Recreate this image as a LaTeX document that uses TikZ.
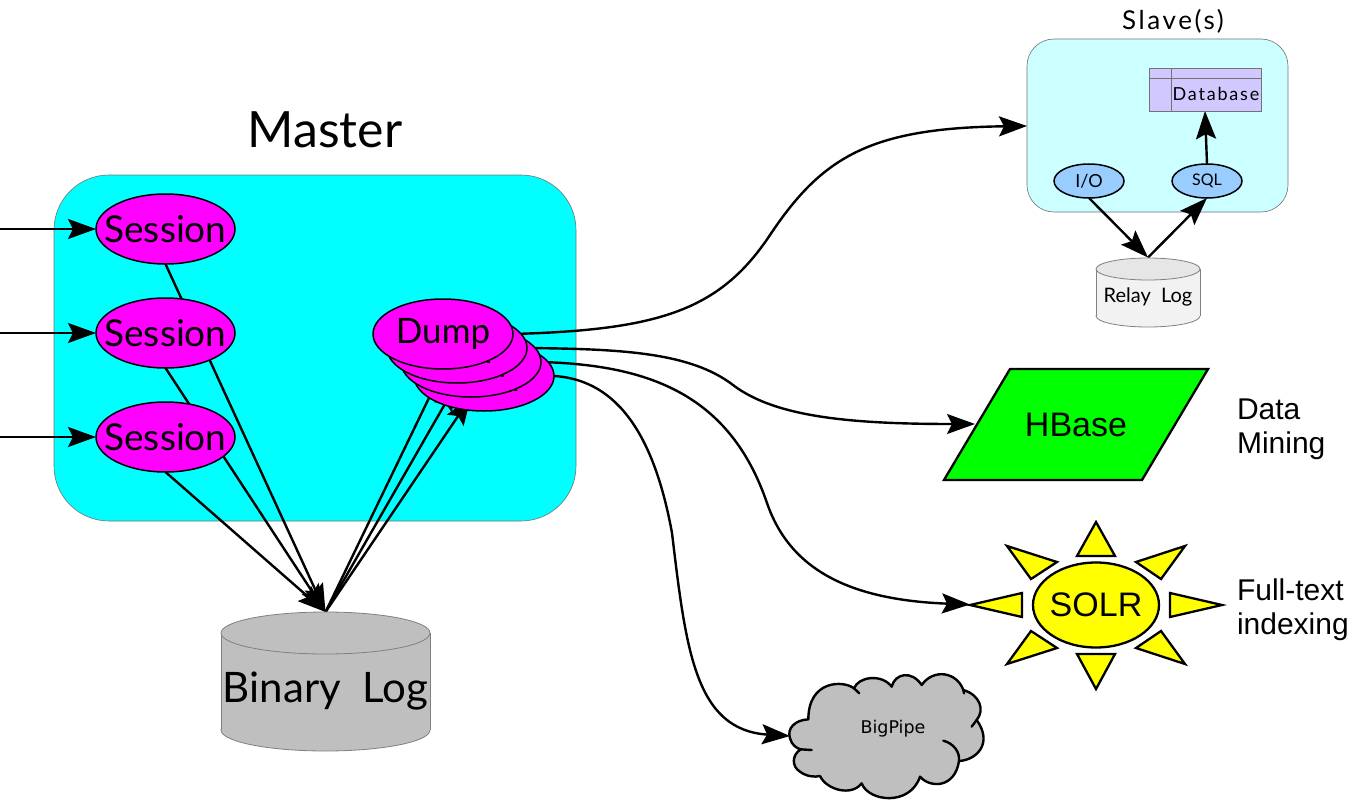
\documentclass[tikz,border=0pt]{standalone}
\usepackage{fontspec}
\setmainfont{Liberation Sans}
\newfontfamily\hand{Lato}
\newfontfamily\handwide[LetterSpace=10]{Lato}
\newfontfamily\dejavu{DejaVu Sans}
\usetikzlibrary{shapes.geometric,arrows.meta}
\pgfdeclarelayer{boxes}
\pgfdeclarelayer{conn}
\pgfdeclarelayer{dfour}
\pgfsetlayers{boxes,conn,dfour,main}
\newcommand{\tb}[1]{\makebox[0pt][c]{#1}}
% drum: centre x, radius x, radius y, top-ellipse centre y, bottom-ellipse centre y, body colour, top colour
\newcommand{\drum}[7]{%
  \fill[#6,draw=black!50,line width=0.8pt] (#1,#5) ellipse [x radius=#2,y radius=#3];
  \fill[#6] (#1-#2,#4) rectangle (#1+#2,#5);
  \draw[black!50,line width=0.8pt] (#1-#2,#4) -- (#1-#2,#5) (#1+#2,#4) -- (#1+#2,#5);
  \draw[black!50,line width=0.8pt,fill=#7] (#1,#4) ellipse [x radius=#2,y radius=#3];
}
\definecolor{threadblue}{HTML}{99CCFF}
\definecolor{slavefill}{HTML}{CCFFFF}
\definecolor{dbfill}{HTML}{D0C8FF}
\definecolor{greyfill}{HTML}{BFBFBF}
\definecolor{mastercyan}{RGB}{0,255,255}
\definecolor{sessmag}{RGB}{255,0,255}
\definecolor{sunyellow}{RGB}{255,255,0}
\definecolor{hbgreen}{RGB}{0,255,0}
\definecolor{relaybody}{HTML}{F2F2F2}
\definecolor{relaytop}{HTML}{E6E6E6}
\tikzset{
  x=1pt,y=-1pt,
  every node/.style={inner sep=0pt,outer sep=0pt},
  link/.style={draw=black,line width=2.4pt,-{Stealth[length=28pt,width=20pt,inset=5pt]}},
  session/.style={ellipse,draw=black,line width=1.5pt,fill=sessmag,minimum width=139pt,minimum height=70pt,font=\hand\fontsize{37}{40}\selectfont},
  dumpnode/.style={session,minimum width=140pt,font=\hand\fontsize{35}{38}\selectfont},
  thread/.style={ellipse,draw=black,line width=1.5pt,fill=threadblue,minimum width=70pt,minimum height=34pt},
  ray/.style={draw=black,line width=2.3pt,fill=sunyellow,line join=miter},
  side/.style={font=\fontsize{30}{34}\selectfont,align=left,anchor=west},
  cloudtail/.style={black,line width=2.4pt,line cap=round},
}
\begin{document}
\begin{tikzpicture}
\useasboundingbox (0,0) rectangle (1366,808);
\begin{pgfonlayer}{boxes}
\node[draw=black!55,line width=0.6pt,fill=mastercyan,rounded corners=55pt,minimum width=522pt,minimum height=346pt] (master) at (315,348) {};
\node[draw=black!55,line width=0.6pt,fill=slavefill,rounded corners=27pt,minimum width=261pt,minimum height=173pt] (slave) at (1157.5,125.5) {};
\end{pgfonlayer}
\node[font=\hand\fontsize{50}{54}\selectfont] (mastertitle) at (325,130) {Master};
\node[font=\handwide\fontsize{26}{30}\selectfont] (slavetitle) at (1173,21) {Slave(s)};
% sessions
\node[session] (s1) at (165.5,229) {\tb{Session}};
\node[session] (s2) at (165.5,333) {\tb{Session}};
\node[session] (s3) at (165.5,437) {\tb{Session}};
\coordinate (in1) at (0,229);
\coordinate (in2) at (0,333);
\coordinate (in3) at (0,437);
% dumps
\node[dumpnode] (d4) at (484,376) {\tb{Dump}};
\node[dumpnode] (d3) at (471,362) {\tb{Dump}};
\node[dumpnode] (d2) at (457,348) {\tb{Dump}};
\node[dumpnode] (d1) at (443,334) {\tb{Dump}};
% binary log
\drum{325.5}{104.5}{21}{633}{730}{greyfill}{greyfill}
\node[minimum width=209pt,minimum height=139pt,font=\hand\fontsize{42}{46}\selectfont] (blog) at (325.5,681.5) {\tb{\raisebox{-20.5pt}[0pt][0pt]{Binary\ \ Log}}};
% slave contents
\node[draw=black!55,line width=1pt,fill=dbfill,minimum width=112pt,minimum height=42pt] (db) at (1205,90) {};
\draw[black!55,line width=1pt] (db.north west |- 0,79) -- (db.north east |- 0,79);
\draw[black!55,line width=1pt] (1171,69) -- (1171,111);
\node[font=\handwide\fontsize{18}{20}\selectfont] (dbtext) at (1216,94) {Database};
\node[thread,font=\hand\fontsize{18}{20}\selectfont] (io) at (1089,181) {\tb{I/O}};
\node[thread,font=\hand\fontsize{16}{20}\selectfont] (sql) at (1207,181) {\tb{SQL}};
\drum{1148}{52}{11}{269}{316}{relaybody}{relaytop}
\node[minimum width=104pt,minimum height=70pt,font=\hand\fontsize{20}{22}\selectfont] (rlog) at (1148,292.5) {\tb{\raisebox{-9.5pt}[0pt][0pt]{Relay\ \ Log}}};
% HBase
\draw[black,line width=2.3pt,fill=hbgreen,line join=miter] (1010,369) -- (1208,369) -- (1142,480) -- (944,480) -- cycle;
\node[font=\fontsize{34}{38}\selectfont] (hbase) at (1076,425) {HBase};
\coordinate (hbasein) at (975,424);
\node[side] (mining) at (1237,429) {Data\\Mining};
% SOLR
\node[ellipse,draw=black,line width=2.3pt,fill=sunyellow,minimum width=126pt,minimum height=85pt,font=\fontsize{34}{38}\selectfont] (solr) at (1096,605) {\tb{SOLR}};
\draw[ray] (1096,522) -- (1077,556) -- (1115,556) -- cycle;
\draw[ray] (1185,546) -- (1136,562) -- (1161,579) -- cycle;
\draw[ray] (1222,605) -- (1170,593) -- (1170,617) -- cycle;
\draw[ray] (1185,664) -- (1136,648) -- (1161,631) -- cycle;
\draw[ray] (1096,689) -- (1077,654) -- (1115,654) -- cycle;
\draw[ray] (1007,664) -- (1057,648) -- (1031,631) -- cycle;
\draw[ray] (970,605) -- (1022,593) -- (1022,617) -- cycle;
\draw[ray] (1007,546) -- (1057,562) -- (1031,579) -- cycle;
\coordinate (solrin) at (970,604.5);
\node[side] (index) at (1237,610) {Full-text\\indexing};
% cloud
\begin{scope}[shift={(780,660)},x=0.33333pt,y=-0.33333pt]
\draw[black,line width=2.4pt,fill=greyfill,line join=round]
 (85,178) .. controls (45,180) and (20,205) .. (30,235)
 .. controls (35,255) and (50,265) .. (62,268)
 .. controls (35,285) and (35,320) .. (60,335)
 .. controls (80,350) and (105,352) .. (120,348)
 .. controls (140,390) and (215,410) .. (245,370)
 .. controls (265,425) and (390,440) .. (420,350)
 .. controls (450,385) and (525,385) .. (537,303)
 .. controls (590,300) and (640,250) .. (590,180)
 .. controls (615,150) and (600,105) .. (550,90)
 .. controls (530,35) and (460,25) .. (425,75)
 .. controls (395,30) and (345,40) .. (335,80)
 .. controls (305,40) and (235,50) .. (222,85)
 .. controls (190,60) and (85,60) .. (85,178) -- cycle;
\draw[cloudtail] (62,268) -- (95,270);
\draw[cloudtail] (490,242) .. controls (520,250) and (540,275) .. (537,303);
\draw[cloudtail] (590,180) -- (575,200);
\draw[cloudtail] (222,85) -- (238,100);
\draw[cloudtail] (550,90) -- (552,100);
\end{scope}
\node[font=\dejavu\fontsize{17.5}{20}\selectfont] (bigpipe) at (893,729) {BigPipe};
\coordinate (cloudin) at (790,736);
% connectors, under the ellipses
\begin{pgfonlayer}{conn}
\draw[link] (in1) -- (s1.west);
\draw[link] (in2) -- (s2.west);
\draw[link] (in3) -- (s3.west);
\draw[link] (s1.south) -- (blog.north);
\draw[link] (s2.south) -- (blog.north);
\draw[link] (s3.south) -- (blog.north);
\draw[link] (blog.north) -- (d1.south);
\draw[link] (blog.north) -- (d2.south);
\draw[link] (blog.north) -- (d3.south);
\draw[link] (d1.east) .. controls (660,330) and (720,310) .. (770,235) .. controls (822,157) and (870,128) .. (slave.west |- 0,126);
\draw[link] (d2.east) .. controls (620,349) and (690,352) .. (733,385) .. controls (775,417) and (850,424) .. (hbasein);
\draw[link] (d3.east) .. controls (650,365) and (730,395) .. (767,503) .. controls (790,570) and (850,600) .. (solrin);
\draw[link] (d4.east) .. controls (620,380) and (655,440) .. (672,533) .. controls (686,650) and (695,730) .. (cloudin);
\draw[link] (io.south) -- (rlog.north);
\draw[link] (rlog.north) -- (sql.south);
\draw[link] (sql.north) -- (db.south -| 1205,0);
\end{pgfonlayer}
\end{tikzpicture}
\end{document}
